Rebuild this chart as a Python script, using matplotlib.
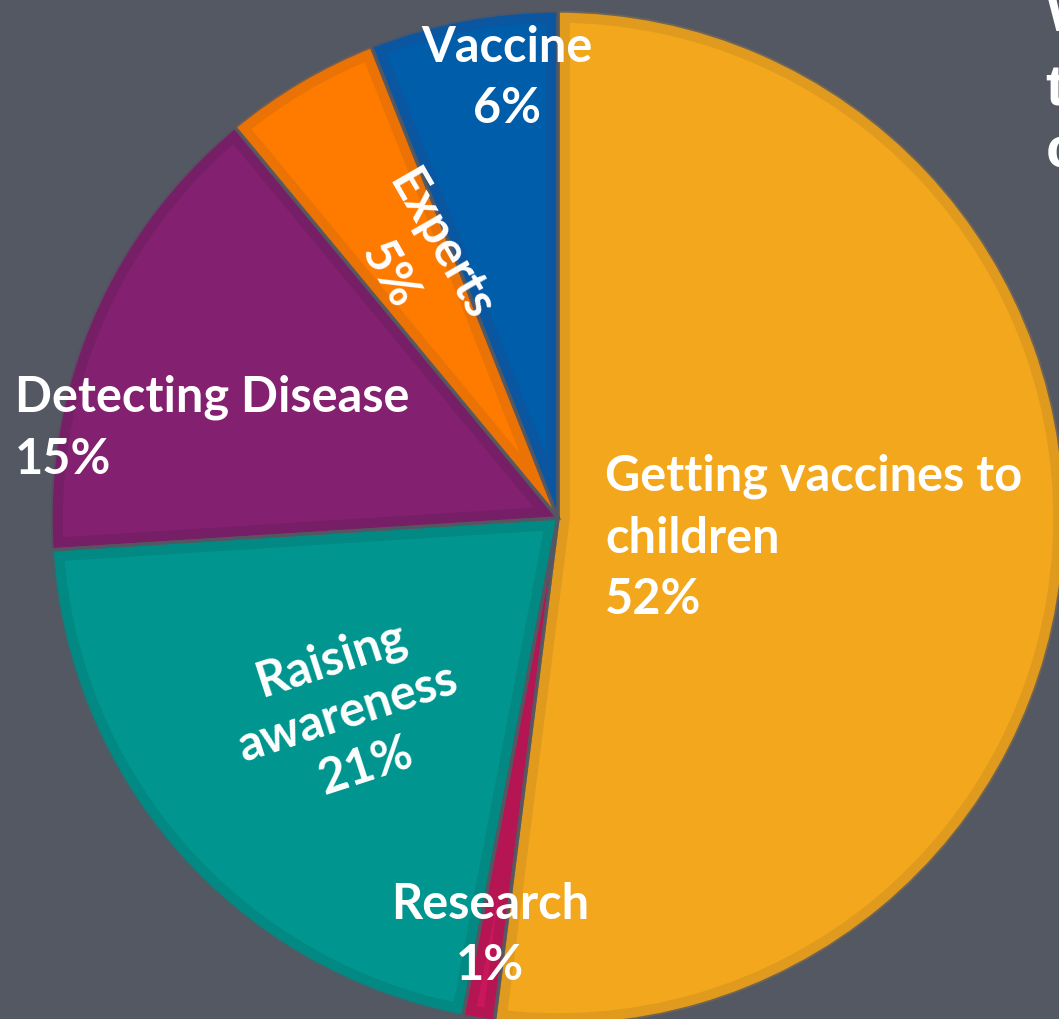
import matplotlib
matplotlib.use("Agg")
import matplotlib.pyplot as plt
from matplotlib.patches import Wedge

# slices, clockwise from 12 o'clock
labels = ["Getting vaccines to\nchildren\n52%", "Research\n1%", "Raising\nawareness\n21%",
          "Detecting Disease\n15%", "Experts\n5%", "Vaccine\n6%"]
shares = [52, 1, 21, 15, 5, 6]
colors = ["#F3A71C", "#C8175A", "#00968F", "#83206F", "#FF7B00", "#005DAA"]
borders = ["#E09A1E", "#B51552", "#028983", "#761E66", "#EB7305", "#0A56A0"]
title_lines = ["What does", "the money", "cover?"]

bg = "#545862"
W, H = 1059, 1019
cx, cy, R = 558, H - 518, 507

fig = plt.figure(figsize=(W / 100, H / 100), dpi=100)
fig.patch.set_facecolor(bg)
ax = fig.add_axes([0, 0, 1, 1])
ax.set_facecolor(bg)

wedges, _ = ax.pie(shares, colors=colors, startangle=90, counterclock=False,
                   center=(cx, cy), radius=R, frame=True)
# darker inner border: wide stroke clipped to a copy of the wedge
for w, c in zip(wedges, borders):
    clip = Wedge(w.center, w.r, w.theta1, w.theta2, transform=ax.transData)
    w.set_edgecolor(c)
    w.set_linewidth(17)
    w.set_clip_on(True)
    w.set_clip_path(clip)
# thin background-coloured gaps between slices
ax.pie(shares, colors=["none"] * len(shares), startangle=90, counterclock=False,
       center=(cx, cy), radius=R, frame=True,
       wedgeprops=dict(edgecolor=bg, linewidth=2.5, alpha=0.8))

ax.set_xlim(0, W)
ax.set_ylim(0, H)
ax.set_aspect("equal")
ax.axis("off")

font = dict(family=["Lato", "DejaVu Sans"], weight="bold", color="white", fontsize=35)
ls = 1.45

ax.text(605, H - 538, labels[0], ha="left", va="center", linespacing=ls, **font)
ax.text(490, H - 935, labels[1], ha="center", va="center", linespacing=ls, **font)
ax.text(348, H - 713, labels[2], ha="center", va="center", linespacing=ls - 0.15,
        rotation=18, rotation_mode="anchor", **font)
ax.text(15, H - 428, labels[3], ha="left", va="center", linespacing=ls, **font)
ax.text(415, H - 260, labels[4], ha="center", va="center", linespacing=ls - 0.05,
        rotation=-60, rotation_mode="anchor", **font)
ax.text(507, H - 78, labels[5], ha="center", va="center", linespacing=ls, **font)

# title at the right, cut off by the frame
tfont = dict(family=["Liberation Sans", "DejaVu Sans"], weight="bold", color="white", fontsize=42)
for line, base in zip(title_lines, [30, 105, 167]):
    ax.text(1046, H - base, line, ha="left", va="baseline", clip_on=False, **tfont)

fig.savefig("out.png", dpi=100, facecolor=bg)
